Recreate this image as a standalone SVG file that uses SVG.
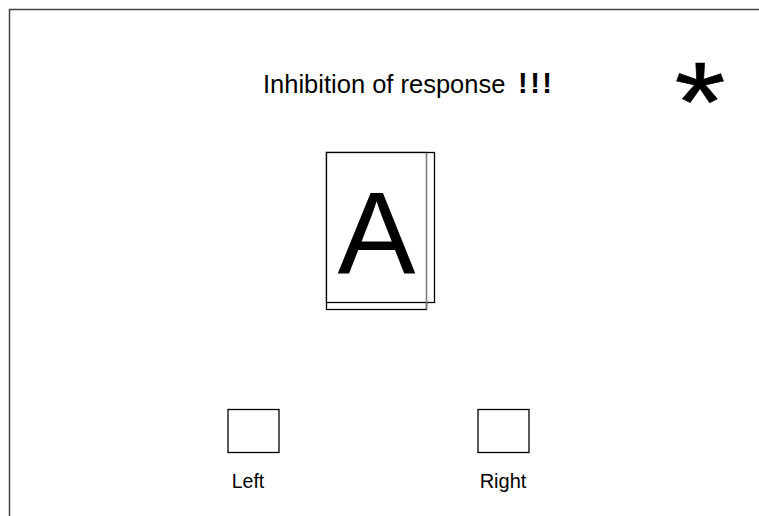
<svg xmlns="http://www.w3.org/2000/svg" width="759" height="516" viewBox="0 0 759 516">
<style>
.t{font-family:"Liberation Sans",Arial,sans-serif;fill:#000}
.box{fill:#fff;stroke:#000;stroke-width:1.3}
</style>
<rect width="759" height="516" fill="#fff"/>
<g id="frame"><rect x="9.5" y="9.5" width="800" height="560" fill="none" stroke="#444" stroke-width="1.5"/></g>
<g id="title"><text class="t" x="263" y="93" font-size="25.5">Inhibition of response</text><text class="t" x="518" y="93" font-size="29" font-weight="bold" textLength="34" lengthAdjust="spacing">!!!</text></g>
<g id="star"><text class="t" x="0" y="0" font-size="114" text-anchor="middle" stroke="#000" stroke-width="0.6" transform="translate(700,141) scale(1.15,1)">*</text></g>
<g id="stimulus">
<rect class="box" x="326.5" y="152.5" width="100" height="157"/>
<rect class="box" x="326.5" y="152.5" width="108" height="150"/>
<line x1="426.5" y1="153" x2="426.5" y2="309.5" stroke="#777" stroke-width="1.5"/>
<text class="t" x="376.5" y="274" font-size="117" text-anchor="middle">A</text>
</g>
<g id="left"><rect class="box" x="228" y="409.5" width="51" height="43"/><text class="t" x="248" y="488" font-size="19.5" text-anchor="middle">Left</text></g>
<g id="right"><rect class="box" x="478" y="409.5" width="51" height="43"/><text class="t" x="503" y="488" font-size="20" text-anchor="middle">Right</text></g>
<g id="connectors"/>
</svg>
